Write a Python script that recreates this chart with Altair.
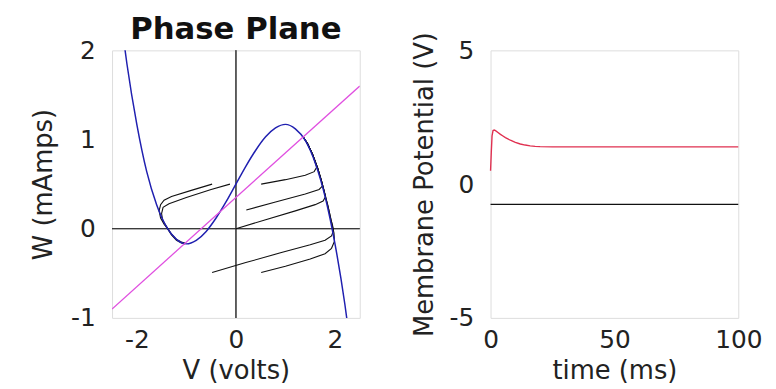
import altair as alt
import pandas as pd

FONT = "DejaVu Sans"

title_text = ["Phase Plane"]

# ---- Phase plane data ----
# cubic nullcline
cubic_v = [-2.3, -2.2, -2.0, -1.8, -1.6, -1.4, -1.2, -1.0, -0.8, -0.6, -0.4, -0.2,
           0.0, 0.2, 0.4, 0.6, 0.8, 1.0, 1.2, 1.4, 1.6, 1.8, 2.0, 2.2, 2.3]
cubic_w = [2.26, 1.85, 1.17, 0.64, 0.27, 0.02, -0.12, -0.17, -0.13, -0.03, 0.12, 0.30,
           0.50, 0.70, 0.88, 1.03, 1.13, 1.17, 1.12, 0.99, 0.74, 0.36, -0.17, -0.85, -1.26]

# linear nullcline
lin_v = [-2.5, 2.5]
lin_w = [-0.9, 1.6]

# trajectories
branch_v = [1.92, 1.86, 1.80, 1.73, 1.65, 1.55, 1.45, 1.37]
branch_w = [0.10, 0.25, 0.38, 0.53, 0.68, 0.83, 0.95, 1.02]

traj_v = {
    "L1": [-0.48, -0.9, -1.3, -1.45, -1.52, -1.55, -1.52, -1.45, -1.38, -1.3, -1.2, -1.1, -1.03],
    "L2": [-0.12, -0.5, -1.0, -1.35, -1.47, -1.5, -1.48, -1.42, -1.3, -1.2, -1.1, -1.03],
    "R1": [0.51, 1.0, 1.4, 1.58, 1.63, 1.55, 1.45, 1.37],
    "R2": [0.21, 0.8, 1.4, 1.68, 1.75, 1.72, 1.65, 1.55, 1.45, 1.37],
    "R3": [0.0, 0.6, 1.2, 1.6, 1.76, 1.81, 1.78, 1.73, 1.65, 1.55, 1.45, 1.37],
    "R4": [-0.48, 0.2, 0.9, 1.5, 1.8, 1.93, 1.97, 1.95] + branch_v,
    "R5": [0.51, 1.0, 1.5, 1.8, 1.93, 1.99, 1.98] + branch_v,
}
traj_w = {
    "L1": [0.50, 0.43, 0.36, 0.32, 0.27, 0.20, 0.12, 0.05, 0.0, -0.07, -0.13, -0.16, -0.17],
    "L2": [0.50, 0.44, 0.35, 0.28, 0.24, 0.17, 0.10, 0.04, -0.06, -0.12, -0.15, -0.16],
    "R1": [0.50, 0.55, 0.60, 0.64, 0.69, 0.83, 0.95, 1.02],
    "R2": [0.21, 0.30, 0.39, 0.44, 0.48, 0.55, 0.68, 0.83, 0.95, 1.02],
    "R3": [0.0, 0.10, 0.20, 0.27, 0.31, 0.36, 0.43, 0.53, 0.68, 0.83, 0.95, 1.02],
    "R4": [-0.49, -0.38, -0.27, -0.18, -0.13, -0.08, -0.02, 0.04] + branch_w,
    "R5": [-0.49, -0.42, -0.34, -0.28, -0.22, -0.14, -0.05] + branch_w,
}

# ---- time series data ----
t_red = [0, 0.3, 0.6, 1, 1.5, 2, 3, 4, 5, 6, 8, 10, 12, 14, 16, 18, 20, 25, 30, 100]
v_red = [0.5, 1.2, 1.8, 2.0, 2.02, 2.0, 1.93, 1.86, 1.8, 1.74, 1.64, 1.56, 1.5, 1.46,
         1.43, 1.41, 1.40, 1.39, 1.39, 1.39]
t_black = [0, 100]
v_black = [-0.76, -0.76]

cubic_df = pd.DataFrame({"V": cubic_v, "W": cubic_w, "i": range(len(cubic_v))})
lin_df = pd.DataFrame({"V": lin_v, "W": lin_w})
rows = []
for k in traj_v:
    for i, (a, b) in enumerate(zip(traj_v[k], traj_w[k])):
        rows.append({"traj": k, "i": i, "V": a, "W": b})
traj_df = pd.DataFrame(rows)
red_df = pd.DataFrame({"t": t_red, "v": v_red})
blk_df = pd.DataFrame({"t": t_black, "v": v_black})
title_df = pd.DataFrame({"label": title_text})

xs = alt.Scale(domain=[-2.5, 2.5], nice=False, zero=False)
ys = alt.Scale(domain=[-1, 2], nice=False, zero=False)

ax_common = dict(grid=False, domain=False, ticks=False, labelFont=FONT, labelFontSize=25,
                 labelColor="#222", titleFont=FONT, titleFontSize=26, titleFontWeight="normal",
                 titleColor="#222", labelExpr="datum.value + ''", labelFlush=False)

X = alt.X("V:Q", scale=xs, axis=alt.Axis(title="V (volts)", values=[-2, 0, 2], labelPadding=10, titlePadding=5, **ax_common))
Y = alt.Y("W:Q", scale=ys, axis=alt.Axis(title="W (mAmps)", values=[-1, 0, 1, 2], labelPadding=17, titlePadding=14, **ax_common))

vrule = alt.Chart(lin_df).mark_rule(color="#555", strokeWidth=1.5).encode(x=alt.datum(0))
hrule = alt.Chart(lin_df).mark_rule(color="#333", strokeWidth=1).encode(y=alt.datum(0))
traj = alt.Chart(traj_df).mark_line(color="#111", strokeWidth=1.1, clip=True).encode(
    x=X, y=Y, detail="traj:N", order="i:Q")
cubic = alt.Chart(cubic_df).mark_line(color="#2020b0", strokeWidth=1.5, clip=True, interpolate="monotone").encode(
    x=X, y=Y, order="i:Q")
lin = alt.Chart(lin_df).mark_line(color="#e050e0", strokeWidth=1.3, clip=True).encode(x=X, y=Y)
ttl = alt.Chart(title_df).mark_text(font=FONT, fontSize=31, fontWeight="bold", color="#111",
                                    align="center", baseline="alphabetic").encode(
    x=alt.datum(0), y=alt.value(-11), text="label:N")

left = alt.layer(vrule, hrule, traj, cubic, lin, ttl).properties(width=250, height=270)

ts = alt.Scale(domain=[0, 100], nice=False)
vs = alt.Scale(domain=[-5, 5], nice=False)
TX = alt.X("t:Q", scale=ts, axis=alt.Axis(title="time (ms)", values=[0, 50, 100], labelPadding=10, titlePadding=5, **ax_common))
TY = alt.Y("v:Q", scale=vs, axis=alt.Axis(title="Membrane Potential (V)", values=[-5, 0, 5], labelPadding=17, titlePadding=12, **ax_common))

red = alt.Chart(red_df).mark_line(color="#e03050", strokeWidth=1.4).encode(x=TX, y=TY)
blk = alt.Chart(blk_df).mark_line(color="#111", strokeWidth=1.2).encode(x=TX, y=TY)

right = alt.layer(blk, red).properties(width=250, height=270)

chart = alt.hconcat(left, right, spacing=50).properties(
    padding={"left": 22, "top": 4, "right": 5, "bottom": 0}
).configure_view(stroke="#555", strokeWidth=1).configure(background="white")

chart.save("out.html", embed_options={"renderer": "svg", "actions": False})
